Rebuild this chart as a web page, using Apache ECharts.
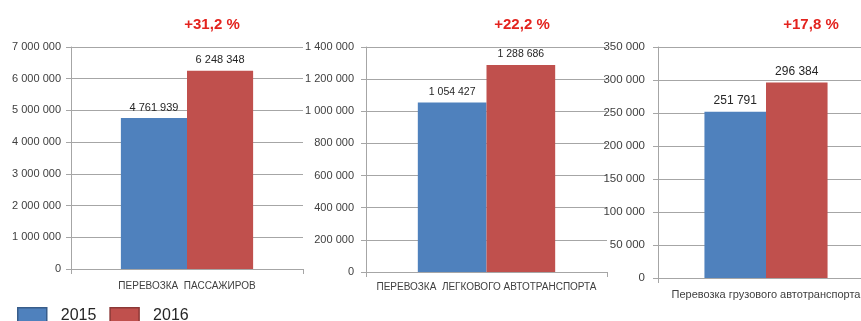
<!DOCTYPE html>
<html>
<head>
<meta charset="utf-8">
<script src="https://cdn.jsdelivr.net/npm/echarts@6/dist/echarts.min.js"></script>
<style>
  html, body { margin: 0; padding: 0; background: #fff; overflow: hidden; }
  /* the third panel runs past the right edge of the window */
  #chart { width: 900px; height: 321px; }
</style>
</head>
<body>
<div id="chart"></div>
<script>
// Three panels: passengers, passenger cars, freight vehicles (2015 vs 2016)
const years = ['2015', '2016'];
const categories = ['ПЕРЕВОЗКА  ПАССАЖИРОВ', 'ПЕРЕВОЗКА  ЛЕГКОВОГО АВТОТРАНСПОРТА', 'Перевозка грузового автотранспорта'];
const values2015 = [4761939, 1054427, 251791];
const values2016 = [6248348, 1288686, 296384];
const growthLabels = ['+31,2 %', '+22,2 %', '+17,8 %'];
const axisMax = [7000000, 1400000, 350000];
const axisStep = [1000000, 200000, 50000];

const BLUE = '#4F81BD';
const RED = '#C0504D';
const GRID_COLOR = '#a6a6a6';
const TEXT = '#404040';
const FONT = '"Liberation Sans", Arial, sans-serif';

const fmt = v => String(v).replace(/\B(?=(\d{3})+(?!\d))/g, ' ');

// panel geometry and type sizes
const panels = [
  { left: 71,  top: 47, width: 232, height: 222, catSize: 10, catMargin: 12, valSize: 11, ySize: 11, yMargin: 10, titleX: 207 },
  { left: 366, top: 47, width: 241, height: 225, catSize: 10, catMargin: 10, valSize: 10.5, ySize: 11, yMargin: 12, titleX: 517 },
  { left: 658, top: 47, width: 216, height: 231, catSize: 11, catMargin: 11, valSize: 12, ySize: 11.5, yMargin: 13, titleX: 806 }
];

const grid = [], xAxis = [], yAxis = [], series = [], title = [];
panels.forEach((p, i) => {
  grid.push({ left: p.left, top: p.top, width: p.width, height: p.height, containLabel: false });
  xAxis.push({
    type: 'category', gridIndex: i, data: [categories[i]],
    axisLine: { lineStyle: { color: GRID_COLOR, width: 1 } },
    axisTick: { show: true, length: 5, lineStyle: { color: GRID_COLOR } },
    axisLabel: { color: TEXT, fontSize: p.catSize, fontFamily: FONT, margin: p.catMargin, interval: 0 }
  });
  yAxis.push({
    type: 'value', gridIndex: i, min: 0, max: axisMax[i], interval: axisStep[i],
    axisLine: { show: true, lineStyle: { color: GRID_COLOR, width: 1 } },
    axisTick: { show: true, length: 5, lineStyle: { color: GRID_COLOR } },
    splitLine: { show: true, lineStyle: { color: GRID_COLOR, width: 1 } },
    axisLabel: { color: TEXT, fontSize: p.ySize, fontFamily: FONT, margin: p.yMargin, formatter: v => fmt(v) }
  });
  const lbl = { show: true, position: 'top', distance: 5, color: '#262626', fontSize: p.valSize, fontFamily: FONT, formatter: o => fmt(o.value) };
  series.push({
    name: years[0], type: 'bar', xAxisIndex: i, yAxisIndex: i, data: [values2015[i]],
    barGap: '0%', barCategoryGap: '43%', itemStyle: { color: BLUE }, label: lbl, animation: false
  });
  series.push({
    name: years[1], type: 'bar', xAxisIndex: i, yAxisIndex: i, data: [values2016[i]],
    barGap: '0%', barCategoryGap: '43%', itemStyle: { color: RED }, label: lbl, animation: false
  });
  title.push({
    text: growthLabels[i], left: p.titleX, top: 12, textAlign: 'center',
    textStyle: { color: '#E3231E', fontSize: 15, fontWeight: 'bold', fontFamily: FONT }
  });
});

const chart = echarts.init(document.getElementById('chart'), null, { renderer: 'canvas' });
chart.setOption({
  animation: false,
  backgroundColor: '#ffffff',
  title,
  grid, xAxis, yAxis, series,
  legend: {
    left: 17, top: 307, padding: 0, orient: 'horizontal',
    itemWidth: 29, itemHeight: 16, itemGap: 13,
    icon: 'rect',
    textStyle: { color: '#262626', fontSize: 16, fontFamily: FONT, padding: [0, 0, 0, 9] },
    data: [
      { name: years[0], itemStyle: { borderColor: '#385D8A', borderWidth: 1.5 } },
      { name: years[1], itemStyle: { borderColor: '#8C3836', borderWidth: 1.5 } }
    ]
  }
});
</script>
</body>
</html>
